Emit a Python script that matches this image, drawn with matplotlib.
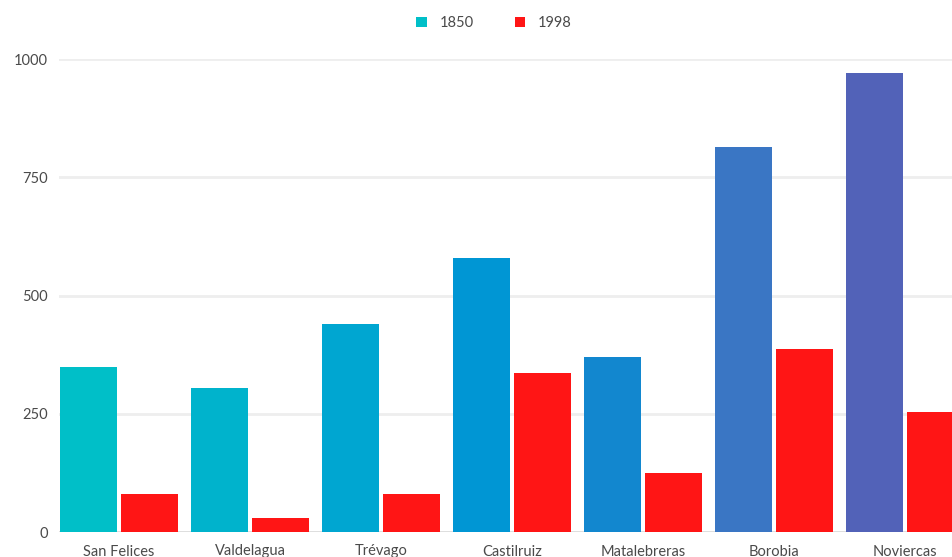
import matplotlib
matplotlib.use("Agg")
import matplotlib.pyplot as plt
from matplotlib.patches import Patch
import numpy as np

plt.rcParams['font.family'] = ['Lato', 'DejaVu Sans']

categories = ["San Felices", "Valdelagua", "Trévago", "Castilruiz", "Matalebreras", "Borobia", "Noviercas"]
series_names = ["1850", "1998"]
values_1850 = [350, 305, 440, 580, 370, 814, 971]
values_1998 = [80, 30, 80, 337, 125, 388, 254]
yticks = [0, 250, 500, 750, 1000]

colors_1850 = ["#00BFC8", "#00B3CC", "#00A6D1", "#0096D4", "#1287CF", "#3A76C4", "#5262B8"]
color_1998 = "#FF1515"

W, H = 953, 557
fig = plt.figure(figsize=(W / 100, H / 100), dpi=100)
left, right, bottom, top = 59, 953, 532, 59.3
ax = fig.add_axes([left / W, 1 - bottom / H, (right - left) / W, (bottom - top) / H])

x = np.arange(len(categories))
bw = 57 / 131
off = 30.5 / 131
ax.bar(x - off, values_1850, width=bw, color=colors_1850, zorder=3)
ax.bar(x + off, values_1998, width=bw, color=color_1998, zorder=3)

ax.set_xlim(-60 / 131, (953 - 119) / 131)
ax.set_ylim(0, 1000)
ax.set_yticks(yticks)
ax.set_yticklabels([str(v) for v in yticks])
ax.set_xticks(x)
ax.set_xticklabels(categories)
ax.grid(axis='y', color='#eeeeee', linewidth=2, zorder=0)
ax.set_axisbelow(True)
for s in ax.spines.values():
    s.set_visible(False)
ax.tick_params(axis='both', length=0, labelsize=10.5, labelcolor='#4a4a4a')
ax.tick_params(axis='x', pad=9)
ax.tick_params(axis='y', pad=8)
ax.axhline(0, color='#dddddd', linewidth=2, zorder=1)
ax.set_facecolor('white')

handles = [Patch(facecolor=colors_1850[0]), Patch(facecolor=color_1998)]
fig.legend(handles, series_names, loc='center', bbox_to_anchor=(494 / W, 1 - 23 / H),
           ncol=2, frameon=False, handlelength=0.7, handleheight=0.7,
           handletextpad=0.9, columnspacing=2.8, fontsize=10.5, labelcolor='#4a4a4a')

fig.savefig("out.png", dpi=100, facecolor='white')
